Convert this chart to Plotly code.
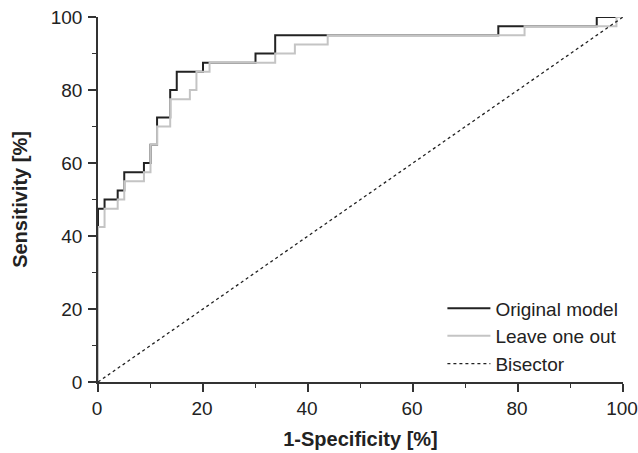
import plotly.graph_objects as go

# ROC curve step vertices (1-Specificity %, Sensitivity %)
orig_fpr = [0, 0, 1.25, 1.25, 3.75, 3.75, 5, 5, 8.75, 8.75, 10, 10, 11.25, 11.25,
            13.75, 13.75, 15, 15, 20, 20, 30, 30, 33.75, 33.75, 76.25, 76.25, 95, 95, 100]
orig_tpr = [0, 47.5, 47.5, 50, 50, 52.5, 52.5, 57.5, 57.5, 60, 60, 65, 65, 72.5,
            72.5, 80, 80, 85, 85, 87.5, 87.5, 90, 90, 95, 95, 97.5, 97.5, 100, 100]

loo_fpr = [0, 0, 1.25, 1.25, 3.75, 3.75, 5, 5, 8.75, 8.75, 10, 10, 11.25, 11.25,
           13.75, 13.75, 17.5, 17.5, 18.75, 18.75, 21.25, 21.25, 33.75, 33.75,
           37.5, 37.5, 43.75, 43.75, 81.25, 81.25, 98.75, 98.75, 100]
loo_tpr = [0, 42.5, 42.5, 47.5, 47.5, 50, 50, 55, 55, 57.5, 57.5, 65, 65, 70,
           70, 77.5, 77.5, 80, 80, 85, 85, 87.5, 87.5, 90, 90, 92.5, 92.5, 95,
           95, 97.5, 97.5, 100, 100]

bis_x = [0, 100]
bis_y = [0, 100]

tick_vals = [0, 20, 40, 60, 80, 100]
tick_text = ["0", "20", "40", "60", "80", "100"]

FONT = "Liberation Sans, Arial, sans-serif"
AX = "#333333"

fig = go.Figure()
fig.add_trace(go.Scatter(x=orig_fpr, y=orig_tpr, mode="lines", name="Original model",
                         line=dict(color="#222222", width=2), cliponaxis=False))
fig.add_trace(go.Scatter(x=loo_fpr, y=loo_tpr, mode="lines", name="Leave one out",
                         line=dict(color="#c4c4c4", width=2), cliponaxis=False))
fig.add_trace(go.Scatter(x=bis_x, y=bis_y, mode="lines", name="Bisector",
                         line=dict(color="#222222", width=1.3, dash="3px,3px"), cliponaxis=False))

axis_common = dict(
    range=[0, 100], showgrid=False, zeroline=False, showline=True, automargin=False,
    linecolor=AX, linewidth=1.6, ticks="outside", ticklen=8, tickwidth=1.6,
    tickcolor=AX, tickvals=tick_vals, ticktext=tick_text, ticklabeloverflow="allow",
    minor=dict(dtick=10, tick0=0, ticks="outside", ticklen=4, tickwidth=1.4, tickcolor=AX),
)

fig.update_layout(
    width=638, height=453,
    margin=dict(l=98, r=15, t=17, b=71),
    paper_bgcolor="white", plot_bgcolor="white",
    font=dict(family=FONT, color="#222222"),
    xaxis=dict(**axis_common, ticklabelshift=-1,
               tickfont=dict(family=FONT, size=19, color="#222222"),
               title=dict(text="<b>1-Specificity [%]</b>", font=dict(family=FONT, size=20, color="#222222"),
                          standoff=14)),
    yaxis=dict(**axis_common, ticklabelstandoff=2,
               tickfont=dict(family=FONT, size=19, color="#222222"),
               title=dict(text="<b>Sensitivity [%]</b>", font=dict(family=FONT, size=20, color="#222222"),
                          standoff=18)),
    legend=dict(x=0.656, y=0.254, xanchor="left", yanchor="top",
                bgcolor="rgba(0,0,0,0)", font=dict(family=FONT, size=19, color="#222222"),
                itemwidth=43, tracegroupgap=0),
    showlegend=True,
)

# remove the page's default body margin so the 638x453 figure fills the window exactly
fig.write_html("out.html", config={"displayModeBar": False},
               post_script="document.body.style.margin='0px';")
